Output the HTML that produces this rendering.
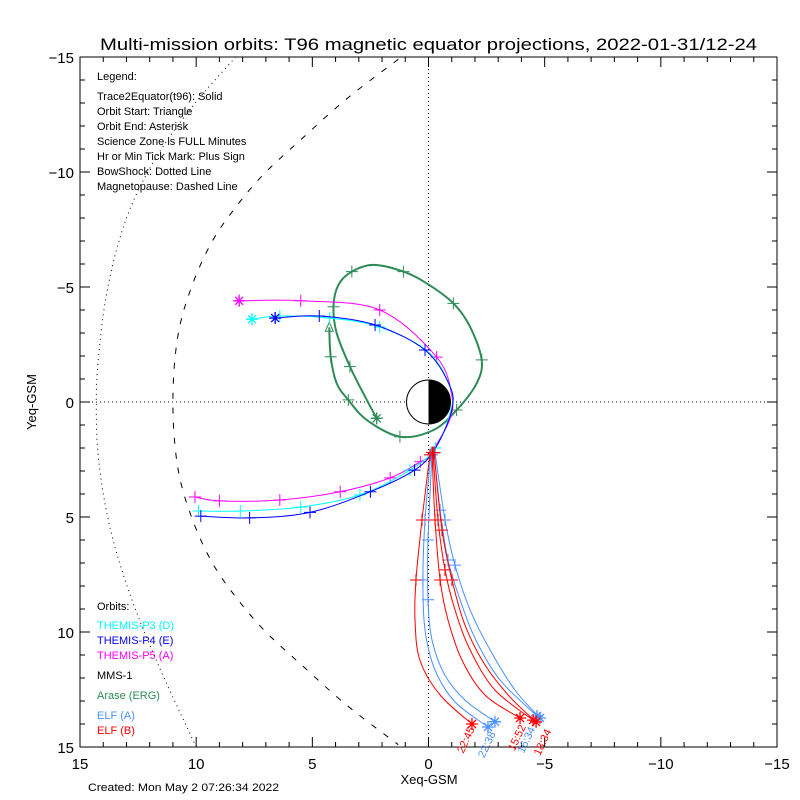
<!DOCTYPE html>
<html><head><meta charset="utf-8"><style>
body{margin:0;background:#fff}
svg{display:block;font-family:"Liberation Sans",sans-serif}
</style></head><body>
<svg id="c" width="800" height="800" xmlns="http://www.w3.org/2000/svg">
<rect width="800" height="800" fill="#fff"/>
<text x="100" y="50" font-size="17" textLength="657" lengthAdjust="spacingAndGlyphs">Multi-mission orbits: T96 magnetic equator projections, 2022-01-31/12-24</text>
<text x="429" y="784" font-size="13" text-anchor="middle">Xeq-GSM</text>
<text x="36" y="402" font-size="13" text-anchor="middle" transform="rotate(-90 36 402)">Yeq-GSM</text>
<text x="88" y="791" font-size="11" textLength="191" lengthAdjust="spacingAndGlyphs">Created: Mon May  2 07:26:34 2022</text>
<g font-size="11">
<text x="97" y="80">Legend:</text>
<text x="97" y="100">Trace2Equator(t96): Solid</text>
<text x="97" y="115">Orbit Start: Triangle</text>
<text x="97" y="130">Orbit End: Asterisk</text>
<text x="97" y="145">Science Zone is FULL Minutes</text>
<text x="97" y="160">Hr or Min Tick Mark: Plus Sign</text>
<text x="97" y="175">BowShock: Dotted Line</text>
<text x="97" y="190">Magnetopause: Dashed Line</text>
<text x="97" y="610">Orbits:</text>
<text x="97" y="629" fill="#00ffff">THEMIS-P3 (D)</text>
<text x="97" y="644" fill="#0000ff">THEMIS-P4 (E)</text>
<text x="97" y="659" fill="#ff00ff">THEMIS-P5 (A)</text>
<text x="97" y="679">MMS-1</text>
<text x="97" y="699" fill="#2e8b57">Arase (ERG)</text>
<text x="97" y="719" fill="#4a90ff">ELF (A)</text>
<text x="97" y="734" fill="#ff0000">ELF (B)</text>
</g>
<g id="plot"></g>
</svg>
<script>
const xTicks=[15,10,5,0,-5,-10,-15];
const yTicks=[-15,-10,-5,0,5,10,15];
const mpX=[1.3,3.5,5.5,7.0,8.2,9.3,10.2,10.8,11.0,10.8,10.2,9.3,8.2,7.0,5.5,3.5,1.3];
const mpY=[-14.9,-13.2,-11.4,-10.0,-8.6,-7.0,-5.0,-2.8,0,2.8,5.0,7.0,8.6,10.0,11.4,13.2,14.9];
const bsX=[8.3,10.2,11.8,13.0,13.8,14.2,14.3,14.2,13.7,12.8,11.6,10.0];
const bsY=[-15,-12.8,-10.5,-8.0,-5.0,-2.0,0,2.5,5.5,8.5,11.5,15];
const p5X=[8.15,5.5,2.1,-0.35,-1.0,-0.9,-0.05,0.35,1.65,3.8,6.4,9.0,10.05];
const p5Y=[-4.4,-4.4,-4.0,-1.95,-0.3,0.8,2.3,2.6,3.3,3.9,4.26,4.3,4.13];
const p4X=[6.6,4.7,2.3,0.15,-0.9,-1.0,-0.3,0.6,2.5,5.1,7.7,9.8];
const p4Y=[-3.65,-3.74,-3.35,-2.26,-0.74,0.35,2.0,2.96,3.9,4.8,5.04,4.96];
const p3X=[7.6,6.4,4.25,2.1,0,-0.95,-0.95,-0.3,0.8,2.95,5.5,8.1,9.9];
const p3Y=[-3.6,-3.74,-3.65,-3.26,-2.17,-0.6,0.4,2.0,2.96,4.04,4.57,4.74,4.74];
const arX=[4.27,4.21,3.95,3.45,2.66,1.23,-0.21,-1.21,-2.07,-2.29,-1.79,-1.07,0.08,1.08,2.37,3.3,3.88,4.09,3.95,3.38,2.73,2.23];
const arY=[-3.25,-1.97,-0.81,-0.09,0.78,1.51,1.22,0.35,-0.81,-1.83,-3.27,-4.29,-5.16,-5.67,-5.96,-5.67,-5.09,-4.14,-2.99,-1.54,-0.23,0.71];
const elfAX=[[-0.1,0.15,0.24,0.15,-0.28,-1.14,-2.56],[-0.15,0.02,0.02,-0.15,-0.7,-1.57,-2.86],[-0.24,-0.5,-0.84,-1.36,-2.04,-3.08,-4.67],[-0.28,-0.71,-1.14,-1.79,-2.65,-3.72,-4.8]];
const elfAY=[[2.3,5.13,7.74,9.91,11.65,13.04,14.13],[2.3,6.0,8.6,10.35,11.87,12.96,13.9],[2.2,4.7,6.87,8.6,10.35,12.09,13.65],[2.2,5.13,7.09,9.04,10.78,12.52,13.74]];
const elfBX=[[-0.06,0.28,0.54,0.58,0.37,-0.5,-1.87],[-0.15,-0.28,-0.5,-0.84,-1.44,-2.43,-3.94],[-0.19,-0.41,-0.71,-1.14,-1.79,-2.86,-4.5],[-0.24,-0.58,-1.01,-1.57,-2.43,-3.51,-4.63]];
const elfBY=[[2.3,5.13,7.74,9.48,11.22,12.74,14.0],[2.2,5.13,7.74,9.48,11.22,12.74,13.74],[2.2,5.13,7.3,9.04,10.78,12.52,13.83],[2.2,5.57,7.74,9.7,11.43,12.83,13.91]];
const elfALabels=["22:38","16:34"];
const elfBLabels=["22:45","15:52","18:34"];

const L=80,R=777,T=57,B=747;
const sx=v=>L+(15-v)*(R-L)/30;
const sy=v=>T+(v+15)*(B-T)/30;
const NS="http://www.w3.org/2000/svg";
const plot=document.getElementById('plot');
function mk(tag,attrs,parent){const e=document.createElementNS(NS,tag);for(const k in attrs)e.setAttribute(k,attrs[k]);(parent||plot).appendChild(e);return e;}
const fr=mk('rect',{x:L,y:T,width:R-L,height:B-T,fill:'none',stroke:'#000'});


for(let v=-15;v<=15;v++){
  const len=(v%5===0)?10:5;
  const x=sx(v),y=sy(v);
  const t1=mk('path',{d:`M${x},${B}v${-len}M${x},${T}v${len}M${L},${y}h${len}M${R},${y}h${-len}`,stroke:'#000'});
  
  
}
xTicks.forEach(v=>{const t=mk('text',{x:sx(v),y:B+22,'font-size':15,'text-anchor':'middle'});t.textContent=String(v).replace('-','\u2212');

});
yTicks.forEach(v=>{const t=mk('text',{x:L-6,y:sy(v)+6,'font-size':15,'text-anchor':'end'});t.textContent=String(v).replace('-','\u2212');

});
const z=mk('path',{d:`M${sx(0)},${T}V${B}M${L},${sy(0)}H${R}`,stroke:'#000','stroke-dasharray':'1 3'});


function smooth(X,Y){
  const P=X.map((x,i)=>[sx(x),sy(Y[i])]);
  let d=`M${P[0][0].toFixed(1)},${P[0][1].toFixed(1)}`;
  for(let i=0;i<P.length-1;i++){
    const p0=P[Math.max(0,i-1)],p1=P[i],p2=P[i+1],p3=P[Math.min(P.length-1,i+2)];
    const c1=[p1[0]+(p2[0]-p0[0])/6,p1[1]+(p2[1]-p0[1])/6];
    const c2=[p2[0]-(p3[0]-p1[0])/6,p2[1]-(p3[1]-p1[1])/6];
    d+=`C${c1[0].toFixed(1)},${c1[1].toFixed(1)} ${c2[0].toFixed(1)},${c2[1].toFixed(1)} ${p2[0].toFixed(1)},${p2[1].toFixed(1)}`;
  }
  return d;
}
function line(X,Y,col,name,dash,w){const p=mk('path',{d:smooth(X,Y),fill:'none',stroke:col,'stroke-width':w||1,'stroke-dasharray':dash||'none'});

return p;}
function plus(x,y,col){const p=mk('path',{d:`M${sx(x)-6},${sy(y)}h12M${sx(x)},${sy(y)-6}v12`,stroke:col});

}
function star(x,y,col){const cx=sx(x),cy=sy(y);const p=mk('path',{d:`M${cx-6},${cy}h12M${cx},${cy-6}v12M${cx-4},${cy-4}l8,8M${cx-4},${cy+4}l8,-8`,stroke:col,'stroke-width':1.3});

}
function tri(x,y,col){const cx=sx(x),cy=sy(y);const p=mk('path',{d:`M${cx-4},${cy+4}L${cx},${cy-5}L${cx+4},${cy+4}Z`,fill:'none',stroke:col});

}
line(mpX,mpY,'#000','magnetopause','6 9');
line(bsX,bsY,'#000','bow-shock','1 4');
const ec=mk('circle',{cx:sx(0),cy:sy(0),r:22,fill:'#fff',stroke:'#000'});


const en=mk('path',{d:`M${sx(0)},${sy(0)-22}A22,22 0 0 1 ${sx(0)},${sy(0)+22}Z`,fill:'#000'});


// Arase: start triangle at first point, end asterisk at last
line(arX,arY,'#2e8b57','arase-orbit',null,2);
for(let i=1;i<arX.length-1;i+=2)plus(arX[i],arY[i],'#2e8b57');
tri(arX[0],arY[0],'#2e8b57');star(arX[arX.length-1],arY[arY.length-1],'#2e8b57');
function themis(X,Y,col,name){line(X,Y,col,name);for(let i=1;i<X.length;i+=1){if(i>=4&&i<=6)continue;plus(X[i],Y[i],col);}star(X[0],Y[0],col);}
themis(p5X,p5Y,'#ff00ff','themis-p5-orbit');
themis(p3X,p3Y,'#00ffff','themis-p3-orbit');
themis(p4X,p4Y,'#0000ff','themis-p4-orbit');
elfAX.forEach((X,k)=>{const Y=elfAY[k];line(X,Y,'#4a90ff','elf-a-orbit');for(let i=0;i<3;i++)plus(X[i],Y[i],'#4a90ff');star(X[6],Y[6],'#4a90ff');});
elfBX.forEach((X,k)=>{const Y=elfBY[k];line(X,Y,'#ff0000','elf-b-orbit');for(let i=0;i<3;i++)plus(X[i],Y[i],'#ff0000');star(X[6],Y[6],'#ff0000');});
function lbl(txt,x,y,col){const cx=sx(x),cy=sy(y);const t=mk('text',{x:cx,y:cy,'font-size':11,fill:col,transform:`rotate(-65 ${cx} ${cy})`});t.textContent=txt;

}
lbl(elfBLabels[0],-1.5,15.3,'#ff0000');
lbl(elfALabels[0],-2.4,15.5,'#4a90ff');
lbl(elfBLabels[1],-3.7,15.2,'#ff0000');
lbl(elfALabels[1],-4.1,15.3,'#4a90ff');
lbl(elfBLabels[2],-4.8,15.4,'#ff0000');
</script>
</body></html>
